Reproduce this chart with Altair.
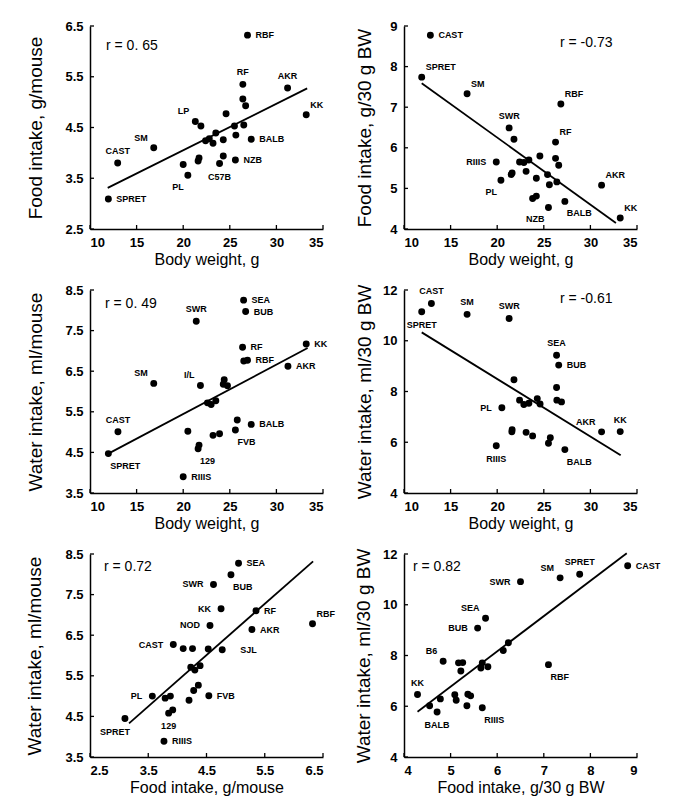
import altair as alt
import pandas as pd

FONT = "Liberation Sans, Arial, sans-serif"
W, H = 233, 203

# ---------------- Panel 1: Body weight vs Food intake per mouse ----------------
P1_BW = [26.9, 26.4, 31.2, 33.2, 26.4, 26.7, 24.6, 21.3, 21.9, 25.5, 26.5, 23.5, 25.65, 27.3,
         24.3, 22.4, 22.8, 23.2, 16.84, 24.3, 21.7, 21.6, 25.6, 12.97, 20.0, 23.9, 20.5, 11.97]
P1_FOOD = [6.32, 5.35, 5.28, 4.75, 5.06, 4.93, 4.77, 4.62, 4.53, 4.53, 4.55, 4.39, 4.35, 4.27,
           4.26, 4.24, 4.28, 4.19, 4.10, 3.94, 3.90, 3.84, 3.86, 3.80, 3.77, 3.79, 3.56, 3.09]
P1_LABEL = ["RBF", "RF", "AKR", "KK", "", "", "", "LP", "", "", "", "", "", "BALB",
            "", "", "", "", "SM", "", "", "", "NZB", "CAST", "", "C57B", "PL", "SPRET"]
P1_POS = ["r", "a", "a", "ur", "", "", "", "ul", "", "", "", "", "", "r",
          "", "", "", "", "ul", "", "", "", "r", "a", "", "b", "bl", "r"]
P1_FIT_X = [11.9, 33.3]
P1_FIT_Y = [3.31, 5.27]

# ---------------- Panel 2: Body weight vs Food intake per 30 g BW ----------------
P2_BW = [12.83, 11.9, 16.77, 26.83, 21.28, 21.8, 26.26, 19.9, 24.58, 26.26, 26.6, 22.4, 22.86, 23.4,
         23.1, 21.6, 21.5, 25.4, 20.4, 24.2, 26.4, 25.6, 31.2, 24.2, 23.8, 27.26, 25.5, 33.2]
P2_FOOD30 = [8.77, 7.74, 7.33, 7.08, 6.49, 6.21, 6.14, 5.65, 5.80, 5.74, 5.57, 5.65, 5.64, 5.70,
             5.42, 5.38, 5.34, 5.34, 5.20, 5.25, 5.16, 5.09, 5.08, 4.81, 4.75, 4.68, 4.53, 4.27]
P2_LABEL = ["CAST", "SPRET", "SM", "RBF", "SWR", "", "RF", "RIIIS", "", "", "", "", "", "",
            "", "", "", "", "PL", "", "", "", "AKR", "", "", "BALB", "NZB", "KK"]
P2_POS = ["r", "ur", "ur", "ur", "a", "", "ur", "l", "", "", "", "", "", "",
          "", "", "", "", "bl", "", "", "", "ur", "", "", "br", "bl", "ur"]
P2_FIT_X = [11.9, 32.74]
P2_FIT_Y = [7.59, 4.15]

# ---------------- Panel 3: Body weight vs Water intake per mouse ----------------
P3_BW = [26.48, 26.7, 21.4, 26.37, 33.2, 26.9, 26.5, 31.24, 16.84, 21.85, 24.4, 24.3, 24.75, 22.6,
         23.0, 23.5, 13.0, 20.5, 25.6, 25.8, 27.3, 23.2, 23.9, 21.7, 21.6, 11.97, 20.0]
P3_WATER = [8.25, 7.97, 7.73, 7.09, 7.17, 6.77, 6.75, 6.62, 6.20, 6.15, 6.29, 6.18, 6.14, 5.72,
            5.68, 5.77, 5.01, 5.02, 5.05, 5.30, 5.19, 4.92, 4.96, 4.68, 4.59, 4.47, 3.90]
P3_LABEL = ["SEA", "BUB", "SWR", "RF", "KK", "RBF", "", "AKR", "SM", "I/L", "", "", "", "",
            "", "", "CAST", "", "FVB", "", "BALB", "", "", "", "129", "SPRET", "RIIIS"]
P3_POS = ["r", "r", "a", "r", "r", "r", "", "r", "ul", "ul", "", "", "", "",
          "", "", "a", "", "br", "", "r", "", "", "", "br", "br", "r"]
P3_FIT_X = [11.97, 33.35]
P3_FIT_Y = [4.47, 7.07]

# ---------------- Panel 4: Body weight vs Water intake per 30 g BW ----------------
P4_BW = [12.94, 11.9, 16.77, 21.28, 26.37, 26.6, 21.8, 26.37, 22.4, 22.86, 23.4, 24.3, 24.6, 26.4,
         26.9, 20.5, 31.2, 33.2, 21.6, 21.57, 23.1, 23.8, 25.7, 25.5, 19.9, 27.26]
P4_WATER30 = [11.47, 11.14, 11.04, 10.88, 9.43, 9.04, 8.46, 8.16, 7.66, 7.49, 7.54, 7.72, 7.51, 7.66,
              7.59, 7.36, 6.41, 6.42, 6.49, 6.41, 6.39, 6.25, 6.18, 5.96, 5.86, 5.71]
P4_LABEL = ["CAST", "SPRET", "SM", "SWR", "SEA", "BUB", "", "", "", "", "", "", "", "",
            "", "PL", "AKR", "KK", "", "", "", "", "", "", "RIIIS", "BALB"]
P4_POS = ["a", "b", "a", "a", "a", "r", "", "", "", "", "", "", "", "",
          "", "l", "ul", "a", "", "", "", "", "", "", "b", "br"]
P4_FIT_X = [11.9, 33.25]
P4_FIT_Y = [10.33, 5.49]

# ---------------- Panel 5: Food intake vs Water intake per mouse ----------------
P5_FOOD = [5.05, 4.92, 4.62, 4.75, 5.35, 4.56, 5.28, 6.32, 3.93, 4.10, 4.26, 4.53, 4.77, 4.23,
           4.30, 4.39, 4.28, 4.36, 3.57, 3.79, 3.88, 4.20, 4.54, 3.92, 3.85, 3.10, 3.77]
P5_WATER = [8.27, 7.99, 7.75, 7.15, 7.10, 6.74, 6.64, 6.78, 6.27, 6.17, 6.17, 6.16, 6.14, 5.71,
            5.64, 5.75, 5.14, 5.27, 5.00, 4.95, 5.00, 4.90, 5.01, 4.66, 4.58, 4.45, 3.89]
P5_LABEL = ["SEA", "BUB", "SWR", "KK", "RF", "NOD", "AKR", "RBF", "CAST", "", "", "", "SJL", "",
            "", "", "", "", "PL", "", "", "", "FVB", "", "129", "SPRET", "RIIIS"]
P5_POS = ["r", "br", "l", "l", "r", "l", "r", "ur", "l", "", "", "", "rr", "",
          "", "", "", "", "l", "", "", "", "r", "", "b", "bc", "r"]
P5_FIT_X = [3.17, 6.33]
P5_FIT_Y = [4.33, 8.32]

# ---------------- Panel 6: Food intake vs Water intake per 30 g BW ----------------
P6_FOOD30 = [8.80, 7.77, 7.35, 6.50, 5.75, 5.58, 6.24, 6.13, 7.10, 4.84, 5.17, 5.26, 5.22, 5.68,
             5.65, 5.80, 4.29, 4.55, 4.78, 4.71, 5.09, 5.12, 5.35, 5.37, 5.43, 5.68]
P6_WATER30 = [11.54, 11.20, 11.06, 10.91, 9.47, 9.08, 8.50, 8.20, 7.64, 7.77, 7.71, 7.72, 7.39, 7.71,
              7.51, 7.56, 6.46, 6.02, 6.29, 5.77, 6.45, 6.24, 6.02, 6.47, 6.41, 5.94]
P6_LABEL = ["CAST", "SPRET", "SM", "SWR", "SEA", "BUB", "", "", "RBF", "B6", "", "", "", "",
            "", "", "KK", "", "", "BALB", "", "", "", "", "", "RIIIS"]
P6_POS = ["r", "a", "ul", "l", "ul", "l", "", "", "br", "ul", "", "", "", "",
          "", "", "a", "", "", "b", "", "", "", "", "", "br"]
P6_FIT_X = [4.29, 8.78]
P6_FIT_Y = [5.78, 12.03]

# axis ticks
BW_TICKS = [10, 15, 20, 25, 30, 35]
FOOD_TICKS = [2.5, 3.5, 4.5, 5.5, 6.5]
WATER_TICKS = [3.5, 4.5, 5.5, 6.5, 7.5, 8.5]
FOOD30_TICKS = [4, 5, 6, 7, 8, 9]
WATER30_TICKS = [4, 6, 8, 10, 12]

# label placement codes: (dx, dy, align)
POS_STYLE = {
    "r": (8, 0, "left"),
    "rr": (18, 0, "left"),
    "l": (-10, 0, "right"),
    "a": (0, -12, "center"),
    "b": (0, 13, "center"),
    "bc": (-10, 14, "center"),
    "ur": (4, -10, "left"),
    "ul": (-6, -10, "right"),
    "br": (2, 12, "left"),
    "bl": (-4, 12, "right"),
}


def panel(xs, ys, labels, pos, fit_x, fit_y, r_text, r_x, r_y,
          xdom, ydom, xticks, yticks, xfmt, yfmt, xtitle, ytitle, title_x):
    df = pd.DataFrame({"x": xs, "y": ys, "label": labels, "pos": pos})
    X = alt.X("x:Q", scale=alt.Scale(domain=xdom, nice=False, zero=False, padding=0),
              axis=alt.Axis(values=xticks, format=xfmt, title=xtitle, grid=False, ticks=False,
                            titleBaseline="alphabetic", titleY=35, titleAnchor="middle",
                            titleFontSize=16))
    Y = alt.Y("y:Q", scale=alt.Scale(domain=ydom, nice=False, zero=False, padding=0),
              axis=alt.Axis(values=yticks, format=yfmt, title=ytitle, grid=False, ticks=False,
                            titleX=title_x, titleY=H / 2, titleAngle=270,
                            titleBaseline="bottom", titleAlign="center", titleFontSize=19))
    layers = []
    # inward ticks
    xt = pd.DataFrame({"x": xticks})
    yt = pd.DataFrame({"y": yticks})
    layers.append(alt.Chart(xt).mark_rule(color="black", strokeWidth=1.3).encode(
        x=X, y=alt.value(H), y2=alt.value(H - 4)))
    layers.append(alt.Chart(yt).mark_rule(color="black", strokeWidth=1.3).encode(
        y=Y, x=alt.value(0), x2=alt.value(4)))
    fit = pd.DataFrame({"x": fit_x, "y": fit_y})
    layers.append(alt.Chart(fit).mark_line(color="black", strokeWidth=1.8).encode(x=X, y=Y))
    base = alt.Chart(df)
    layers.append(base.mark_circle(color="black", opacity=1, size=48).encode(x=X, y=Y))
    for code in sorted(set(p for p in pos if p)):
        dx, dy, align = POS_STYLE[code]
        layers.append(base.transform_filter(alt.datum.pos == code).mark_text(
            dx=dx, dy=dy, align=align, baseline="middle", font=FONT,
            fontSize=9, fontWeight="bold", color="black").encode(x=X, y=Y, text="label:N"))
    rt = pd.DataFrame({"t": [r_text]})
    layers.append(alt.Chart(rt).mark_text(align="left", baseline="middle", font=FONT,
                                          fontSize=14, color="black").encode(
        x=alt.value(r_x), y=alt.value(r_y), text="t:N"))
    return alt.layer(*layers).properties(width=W, height=H)


p1 = panel(P1_BW, P1_FOOD, P1_LABEL, P1_POS, P1_FIT_X, P1_FIT_Y, "r = 0.  65", 16, 20,
           [10, 35], [2.5, 6.5], BW_TICKS, FOOD_TICKS, "d", ".1f",
           "Body weight, g", "Food intake, g/mouse", -45)
p2 = panel(P2_BW, P2_FOOD30, P2_LABEL, P2_POS, P2_FIT_X, P2_FIT_Y, "r = -0.73", 156, 17,
           [10, 35], [4, 9], BW_TICKS, FOOD30_TICKS, "d", "d",
           "Body weight, g", "Food intake, g/30 g BW", -30)
p3 = panel(P3_BW, P3_WATER, P3_LABEL, P3_POS, P3_FIT_X, P3_FIT_Y, "r = 0.  49", 15, 14,
           [10, 35], [3.5, 8.5], BW_TICKS, WATER_TICKS, "d", ".1f",
           "Body weight, g", "Water intake, ml/mouse", -45)
p4 = panel(P4_BW, P4_WATER30, P4_LABEL, P4_POS, P4_FIT_X, P4_FIT_Y, "r = -0.61", 156, 9,
           [10, 35], [4, 12], BW_TICKS, WATER30_TICKS, "d", "d",
           "Body weight, g", "Water intake, ml/30 g BW", -30)
p5 = panel(P5_FOOD, P5_WATER, P5_LABEL, P5_POS, P5_FIT_X, P5_FIT_Y, "r = 0.72", 14, 13,
           [2.5, 6.5], [3.5, 8.5], FOOD_TICKS, WATER_TICKS, ".1f", ".1f",
           "Food intake, g/mouse", "Water intake, ml/mouse", -46)
p6 = panel(P6_FOOD30, P6_WATER30, P6_LABEL, P6_POS, P6_FIT_X, P6_FIT_Y, "r = 0.82", 9, 13,
           [4, 9], [4, 12], FOOD30_TICKS, WATER30_TICKS, "d", "d",
           "Food intake, g/30 g BW", "Water intake, ml/30 g BW", -31)

chart = alt.concat(p1, p2, p3, p4, p5, p6, columns=2, bounds="flush",
                   spacing={"row": 61, "column": 81}).properties(
    padding={"left": 16, "top": 12, "right": 5, "bottom": 5},
    background="white"
).configure_view(stroke=None).configure_axis(
    grid=False, ticks=False, domainColor="black", domainWidth=1.5,
    labelFont=FONT, labelFontSize=13, labelFontWeight="bold", labelColor="black",
    labelPadding=7, titleFont=FONT, titleFontSize=19, titleFontWeight="normal",
    titleColor="black"
)

chart.save("out.html", embed_options={"renderer": "svg", "actions": False})
